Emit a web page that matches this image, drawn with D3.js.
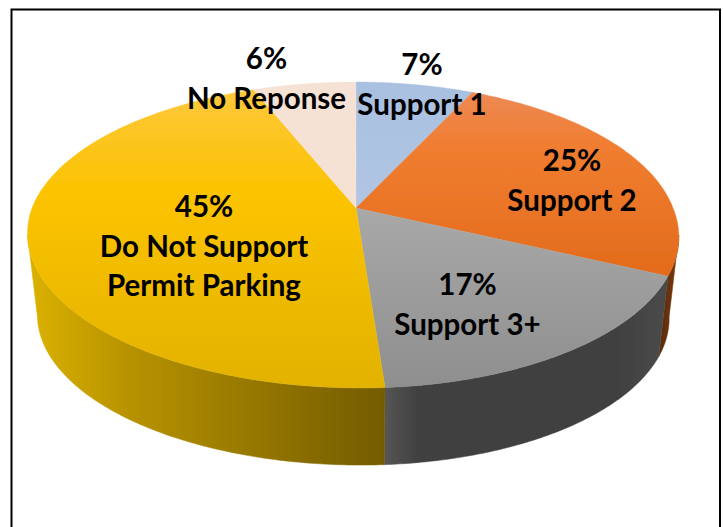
<!DOCTYPE html>
<html><head><meta charset="utf-8">
<script src="https://cdn.jsdelivr.net/npm/d3@7/dist/d3.min.js"></script>
<style>html,body{margin:0;padding:0;background:#fff}svg{display:block}text{font-family:Lato,"Open Sans",sans-serif;font-weight:700;fill:#000}</style>
</head><body><svg id="c" width="723" height="527"></svg>
<script>
const categories = ["Support 1","Support 2","Support 3+","Do Not Support Permit Parking","No Reponse"];
const values = [7,25,17,45,6];
const percentLabels = ["7%","25%","17%","45%","6%"];
const labelLines = [["7%","Support 1"],["25%","Support 2"],["17%","Support 3+"],["45%","Do Not Support","Permit Parking"],["6%","No Reponse"]];
const labelPos = [[422,65],[572,161],[467.5,285],[204,207],[266.5,59]];
const topColors = ["url(#gBlue)","url(#gOrange)","url(#gGrey)","url(#gYellow)","#f6e1d5"];
const sideColors = ["#8fa5c4","url(#sOrange)","url(#sGrey)","url(#sYellow)","#c9b5a9"];

const svg = d3.select("#c");
const defs = svg.append("defs");
function grad(id,x1,y1,x2,y2,stops){
  const g=defs.append("linearGradient").attr("id",id).attr("gradientUnits","userSpaceOnUse")
    .attr("x1",x1).attr("y1",y1).attr("x2",x2).attr("y2",y2);
  stops.forEach(s=>g.append("stop").attr("offset",s[0]).attr("stop-color",s[1]));
}
grad("gBlue",0,82,0,210,[[0,"#a9c0e0"],[1,"#b1c6e4"]]);
grad("gOrange",0,90,0,285,[[0,"#ec8a55"],[0.3,"#f07d30"],[1,"#e26a1a"]]);
grad("gGrey",0,205,0,390,[[0,"#a9a9a9"],[1,"#8e8e8e"]]);
grad("gYellow",0,85,0,390,[[0,"#fdc840"],[0.35,"#fcc300"],[1,"#e2b200"]]);
grad("sYellow",27,0,384,0,[[0,"#dcb200"],[0.28,"#b89300"],[0.7,"#8f7200"],[1,"#745c00"]]);
grad("sGrey",384,0,670,0,[[0,"#565656"],[0.12,"#404040"],[0.8,"#404040"],[1,"#4a4a4a"]]);
grad("sOrange",660,0,680,0,[[0,"#5a2c08"],[1,"#7a3a08"]]);
const blur=defs.append("filter").attr("id","soft").attr("x","-5%").attr("y","-5%").attr("width","110%").attr("height","110%");
blur.append("feGaussianBlur").attr("stdDeviation",0.7);

// frame
svg.append("path").attr("d","M11.5 527V9.5H720V527").attr("fill","none").attr("stroke","#000").attr("stroke-width",2);

// perspective disc projection
const P=0.1765;
function project(a,disc){
  const X=Math.sin(a),Y=-Math.cos(a),w=1-P*Y;
  const c=(X<0?324:317)*disc.s;
  return [356+(c*X+4*Math.max(0,Y))/w, disc.ay+148.2*disc.s*Y/w];
}
const topDisc={ay:208,s:1}, botDisc={ay:290.5,s:0.97};
const arcs=d3.pie().sort(null).value(d=>d)(values);
const line=d3.line();
const samples=(a,b)=>d3.range(0,121).map(i=>a+(b-a)*i/120);
// the wall can only be seen between the two silhouette points of the disc
const wallFrom=Math.PI-Math.acos(P), wallTo=Math.PI+Math.acos(P);

const g=svg.append("g").attr("filter","url(#soft)");
g.selectAll("path.side").data(arcs.filter(d=>d.endAngle>wallFrom&&d.startAngle<wallTo)).join("path").attr("class","side")
  .attr("fill",d=>sideColors[d.index]).attr("stroke",d=>sideColors[d.index]).attr("stroke-width",0.5)
  .attr("d",d=>{
    const s=samples(Math.max(d.startAngle,wallFrom),Math.min(d.endAngle,wallTo));
    return line(s.map(a=>project(a,topDisc)).concat(s.slice().reverse().map(a=>project(a,botDisc))))+"Z";
  });
g.selectAll("path.top").data(arcs).join("path").attr("class","top")
  .attr("fill",(d,i)=>topColors[i]).attr("stroke",(d,i)=>topColors[i]).attr("stroke-width",0.4)
  .attr("d",d=>line([[356,208]].concat(samples(d.startAngle,d.endAngle).map(a=>project(a,topDisc))))+"Z");

// labels
labelLines.forEach((lines,i)=>{
  lines.forEach((t,j)=>{
    svg.append("text").attr("x",labelPos[i][0]).attr("y",labelPos[i][1]+j*39.5+10)
      .attr("text-anchor","middle").attr("font-size",29.5).text(t);
  });
});
</script></body></html>
